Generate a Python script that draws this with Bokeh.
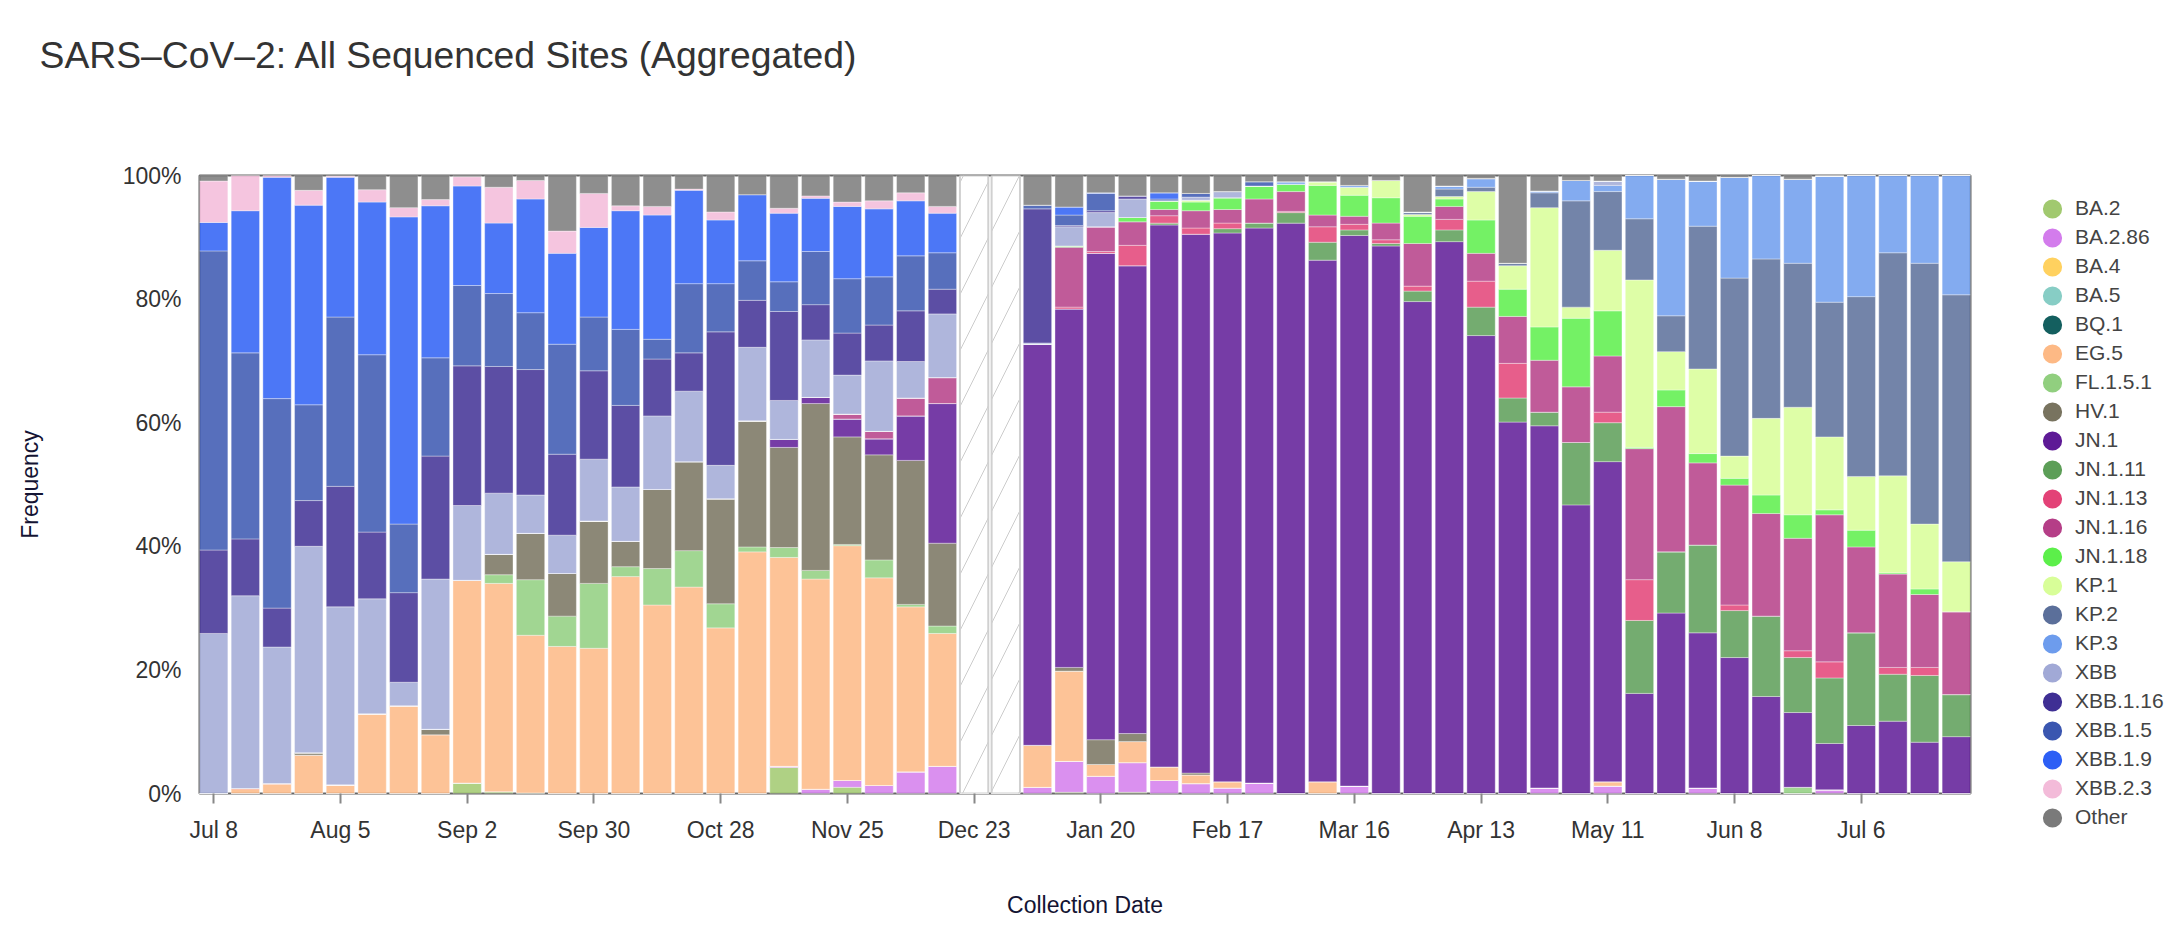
from bokeh.plotting import figure
from bokeh.models import (ColumnDataSource, FixedTicker, NumeralTickFormatter, Range1d,
                          Title, Legend, LegendItem)
from bokeh.embed import file_html
from bokeh.resources import INLINE

# ---------------- data (percent of sequences per collection week) ----------------
week_index = list(range(56))  # weekly bins, Jul 8 2023 ... Jul 27 2024
tick_weeks = [0, 4, 8, 12, 16, 20, 24, 28, 32, 36, 40, 44, 48, 52]
tick_labels = ["Jul 8", "Aug 5", "Sep 2", "Sep 30", "Oct 28", "Nov 25", "Dec 23",
               "Jan 20", "Feb 17", "Mar 16", "Apr 13", "May 11", "Jun 8", "Jul 6"]

lineages = ["BA.2", "BA.2.86", "BA.4", "BA.5", "BQ.1", "EG.5", "FL.1.5.1", "HV.1",
            "JN.1", "JN.1.11", "JN.1.13", "JN.1.16", "JN.1.18", "KP.1", "KP.2", "KP.3",
            "XBB", "XBB.1.16", "XBB.1.5", "XBB.1.9", "XBB.2.3", "Other"]
colors = ["#a1c96f", "#d37cec", "#ffd15f", "#87cdc5", "#145f5f", "#fdb985", "#91cf7f", "#78735f",
          "#5e1a96", "#5c9e57", "#e34277", "#b53e87", "#5cef4a", "#d8fe98", "#5b6f9a", "#6d9ced",
          "#a1a9d6", "#3f2f94", "#3a56b0", "#2d5ff5", "#f3bbd9", "#7a7a7a"]

BA_2 = [0, 0, 0, 0, 0, 0, 0, 0, 1.7, 0.3, 0.1, 0, 0, 0, 0, 0,
        0, 0, 4.2, 0, 1.0, 0, 0, 0, 0, 0, 0, 0.2, 0, 0.2, 0, 0,
        0, 0, 0, 0, 0, 0, 0, 0, 0, 0, 0, 0, 0, 0, 0, 0,
        0, 0, 0, 0, 0, 0, 0, 0]
BA_2_86 = [0, 0, 0, 0, 0, 0, 0, 0, 0, 0, 0, 0, 0, 0, 0, 0,
           0, 0, 0.2, 0.7, 1.1, 1.3, 3.5, 4.4, 0, 0, 1.0, 5.0, 2.8, 4.8, 2.1, 1.6,
           0.9, 1.7, 0, 0, 1.2, 0, 0, 0, 0, 0, 0.9, 0, 1.2, 0, 0, 0.9,
           0, 0, 0, 0.6, 0, 0, 0, 0]
BA_4 = [0, 0, 0, 0, 0, 0, 0, 0, 0, 0, 0, 0, 0, 0, 0, 0,
        0, 0, 0, 0, 0, 0, 0, 0, 0, 0, 0, 0, 0, 0, 0, 0,
        0, 0, 0, 0, 0, 0, 0, 0, 0, 0, 0, 0, 0, 0, 0, 0,
        0, 0, 0, 0, 0, 0, 0, 0]
BA_5 = [0, 0, 0, 0, 0, 0, 0, 0, 0, 0, 0, 0, 0, 0, 0, 0,
        0, 0, 0, 0, 0, 0, 0, 0, 0, 0, 0, 0, 0, 0, 0, 0,
        0, 0, 0, 0, 0, 0, 0, 0, 0, 0, 0, 0, 0, 0, 0, 0,
        0, 0, 0, 0, 0, 0, 0, 0]
BQ_1 = [0, 0, 0, 0, 0, 0, 0, 0, 0, 0, 0, 0, 0, 0, 0, 0,
        0, 0, 0, 0, 0, 0, 0, 0, 0, 0, 0, 0, 0, 0, 0, 0,
        0, 0, 0, 0, 0, 0, 0, 0, 0, 0, 0, 0, 0, 0, 0, 0,
        0, 0, 0, 0, 0, 0, 0, 0]
EG_5 = [0, 0.8, 1.6, 6.2, 1.4, 12.9, 14.2, 9.5, 32.8, 33.7, 25.5, 23.8, 23.5, 35.1, 30.5, 33.4,
        26.8, 39.1, 33.8, 34.0, 38.0, 33.6, 26.7, 21.5, 0, 0, 6.8, 14.6, 1.9, 3.4, 2.2, 1.4,
        1.0, 0, 0, 1.9, 0, 0, 0, 0, 0, 0, 0, 0, 0.7, 0, 0, 0,
        0, 0, 0, 0, 0, 0, 0, 0]
FL_1_5_1 = [0, 0, 0, 0, 0, 0, 0, 0, 0, 1.4, 9.0, 4.9, 10.5, 1.6, 5.9, 5.9,
            3.9, 0.8, 1.6, 1.4, 0.2, 2.9, 0.4, 1.2, 0, 0, 0, 0, 0, 0, 0, 0,
            0, 0, 0, 0, 0, 0, 0, 0, 0, 0, 0, 0, 0, 0, 0, 0,
            0, 0, 1.0, 0, 0, 0, 0, 0]
HV_1 = [0, 0, 0, 0.4, 0, 0, 0, 0.9, 0, 3.3, 7.5, 6.9, 10.1, 4.1, 12.8, 14.4,
        17.0, 20.4, 16.2, 27.0, 17.4, 17.0, 23.3, 13.4, 0, 0, 0, 0.6, 4.0, 1.3, 0, 0.3,
        0, 0, 0, 0, 0, 0, 0, 0, 0, 0, 0, 0, 0, 0, 0, 0,
        0, 0, 0, 0, 0, 0, 0, 0]
JN_1 = [0, 0, 0, 0, 0, 0, 0, 0, 0, 0, 0, 0, 0, 0, 0, 0,
        0, 0, 1.3, 1.0, 2.9, 2.6, 7.2, 22.6, 0, 0, 64.9, 58.0, 78.7, 75.7, 87.6, 87.2,
        88.8, 89.8, 92.2, 84.4, 89.1, 88.6, 79.6, 89.3, 74.1, 60.1, 58.6, 46.7, 51.8, 16.2, 29.2, 25.1,
        22.0, 15.7, 12.1, 7.5, 11.0, 11.7, 8.3, 9.2]
JN_1_11 = [0, 0, 0, 0, 0, 0, 0, 0, 0, 0, 0, 0, 0, 0, 0, 0,
           0, 0, 0, 0, 0, 0, 0, 0, 0, 0, 0, 0, 0, 0, 0.3, 0,
           0.7, 0.8, 1.7, 2.9, 0.9, 0.4, 1.7, 1.9, 4.6, 3.9, 2.2, 10.1, 6.3, 11.8, 9.9, 14.2,
           7.6, 13.0, 8.9, 10.6, 15.0, 7.6, 10.8, 6.8]
JN_1_13 = [0, 0, 0, 0, 0, 0, 0, 0, 0, 0, 0, 0, 0, 0, 0, 0,
           0, 0, 0, 0, 0, 0, 0, 0, 0, 0, 0, 0.3, 0.3, 3.3, 1.2, 1.0,
           0.9, 0, 0.2, 2.5, 0.9, 0.6, 0.8, 1.7, 4.2, 5.6, 0, 0, 1.7, 6.6, 0, 0,
           0.9, 0, 1.1, 2.6, 0, 1.1, 1.3, 0]
JN_1_16 = [0, 0, 0, 0, 0, 0, 0, 0, 0, 0, 0, 0, 0, 0, 0, 0,
           0, 0, 0, 0, 0.8, 1.2, 2.9, 4.2, 0, 0, 0, 9.7, 4.0, 3.8, 1.0, 2.8,
           2.2, 3.9, 3.2, 1.9, 1.3, 2.7, 6.9, 2.1, 4.5, 7.6, 8.4, 9.0, 9.1, 21.2, 23.5, 13.3,
           19.4, 16.6, 18.2, 23.8, 13.9, 15.1, 11.8, 13.4]
JN_1_18 = [0, 0, 0, 0, 0, 0, 0, 0, 0, 0, 0, 0, 0, 0, 0, 0,
           0, 0, 0, 0, 0, 0, 0, 0, 0, 0, 0, 0.2, 0, 0.7, 1.4, 1.4,
           1.9, 2.1, 1.2, 4.8, 3.4, 4.1, 4.4, 1.2, 5.4, 4.4, 5.4, 11.1, 7.3, 0.2, 2.7, 1.5,
           1.1, 3.0, 3.8, 0.8, 2.7, 0.2, 0.9, 0]
KP_1 = [0, 0, 0, 0, 0, 0, 0, 0, 0, 0, 0, 0, 0, 0, 0, 0,
        0, 0, 0, 0, 0, 0, 0, 0, 0, 0, 0, 0, 0, 0, 0, 0.3,
        0, 0, 0, 0.6, 1.3, 2.8, 0.3, 0.4, 4.6, 3.8, 19.3, 1.8, 9.8, 27.1, 6.2, 13.7,
        3.6, 12.4, 17.4, 11.8, 8.7, 15.7, 10.5, 8.1]
KP_2 = [0, 0, 0, 0, 0, 0, 0, 0, 0, 0, 0, 0, 0, 0, 0, 0,
        0, 0, 0, 0, 0, 0, 0, 0, 0, 0, 0, 0, 0, 0, 0, 0,
        0, 0, 0, 0, 0, 0, 0.3, 1.2, 0.7, 0.4, 2.4, 17.2, 9.5, 9.9, 5.8, 23.1,
        28.8, 25.8, 23.3, 21.8, 29.1, 36.1, 42.2, 43.2]
KP_3 = [0, 0, 0, 0, 0, 0, 0, 0, 0, 0, 0, 0, 0, 0, 0, 0,
        0, 0, 0, 0, 0, 0, 0, 0, 0, 0, 0, 0, 0, 0, 0, 0,
        0, 0, 0.4, 0, 0.3, 0, 0.1, 0.5, 1.4, 0, 0.3, 3.3, 1.0, 7.0, 22.1, 7.3,
        16.3, 13.5, 13.6, 20.4, 19.6, 12.5, 14.2, 19.3]
XBB = [25.9, 31.2, 22.1, 33.4, 28.8, 18.6, 3.8, 24.3, 12.1, 9.9, 6.2, 6.2, 10.0, 8.8, 11.9, 11.4,
       5.4, 11.9, 6.3, 9.3, 6.3, 11.4, 5.9, 10.3, 0, 0, 0.2, 3.1, 2.3, 3.0, 0, 0.5,
       1.0, 0, 0, 0, 0, 0, 0, 0, 0, 0, 0, 0, 0.7, 0, 0, 0,
       0, 0, 0, 0, 0, 0, 0, 0]
XBB_1_16 = [13.5, 9.2, 6.3, 7.4, 19.5, 10.8, 14.5, 19.9, 22.6, 20.5, 20.3, 13.1, 14.3, 13.2, 9.2, 6.2,
            21.6, 7.6, 14.4, 5.7, 6.8, 5.8, 8.2, 4.0, 0, 0, 21.7, 0.2, 0.3, 0.5, 0, 0,
            0, 0, 0, 0, 0, 0, 0, 0, 0, 0, 0, 0, 0, 0, 0, 0,
            0, 0, 0, 0, 0, 0, 0, 0]
XBB_1_5 = [48.4, 30.1, 33.9, 15.5, 27.4, 28.7, 11.1, 15.9, 13.0, 11.8, 9.2, 17.8, 8.7, 12.3, 3.2, 11.2,
           7.8, 6.4, 4.8, 8.6, 8.8, 7.8, 8.9, 5.9, 0, 0, 0.6, 1.7, 2.8, 0, 0.3, 0.6,
           0, 0.7, 0, 0, 0, 0, 0, 0, 0, 0, 0, 0, 0, 0, 0, 0,
           0, 0, 0, 0, 0, 0, 0, 0]
XBB_1_9 = [4.6, 23.0, 35.8, 32.3, 22.6, 24.7, 49.7, 24.6, 16.1, 11.4, 18.4, 14.7, 14.5, 19.2, 20.1, 15.1,
           10.3, 10.7, 11.1, 8.6, 11.7, 11.0, 8.9, 6.4, 0, 0, 0, 1.3, 0.1, 0, 1.0, 0,
           0, 0, 0, 0, 0, 0, 0, 0, 0, 0, 0, 0, 0, 0, 0, 0,
           0, 0, 0, 0, 0, 0, 0, 0]
XBB_2_3 = [6.7, 5.7, 0.3, 2.4, 0.2, 2.0, 1.5, 1.0, 1.5, 5.8, 3.0, 3.6, 5.5, 0.8, 1.4, 0.2,
           1.3, 0, 0.8, 0.4, 0.7, 1.3, 1.3, 1.1, 0, 0, 0, 0, 0, 0, 0, 0,
           0, 0, 0, 0, 0, 0, 0, 0, 0, 0, 0, 0, 0, 0, 0, 0,
           0, 0, 0, 0, 0, 0, 0, 0]
Other = [0.9, 0, 0, 2.4, 0.1, 2.3, 5.2, 3.9, 0.2, 1.9, 0.8, 9.0, 2.9, 4.9, 5.0, 2.2,
         5.9, 3.1, 5.3, 3.3, 4.3, 4.1, 2.8, 5.0, 0, 0, 4.8, 5.1, 2.8, 3.3, 2.8, 2.9,
         2.6, 1.0, 1.0, 1.0, 1.6, 0.8, 5.9, 1.7, 0.5, 14.2, 2.5, 0.8, 0.9, 0, 0.6, 0.9,
         0.3, 0, 0.6, 0.1, 0, 0, 0, 0]

series = [BA_2, BA_2_86, BA_4, BA_5, BQ_1, EG_5, FL_1_5_1, HV_1, JN_1, JN_1_11, JN_1_13,
          JN_1_16, JN_1_18, KP_1, KP_2, KP_3, XBB, XBB_1_16, XBB_1_5, XBB_1_9, XBB_2_3, Other]

# ---------------- build sources ----------------
totals = [sum(s[i] for s in series) for i in week_index]
keys = ["s%d" % k for k in range(len(lineages))]
data = {"x": week_index}
for k, s in zip(keys, series):
    data[k] = [s[i] / totals[i] if totals[i] > 0 else 0 for i in week_index]
source = ColumnDataSource(data)
missing_x = [i for i in week_index if totals[i] == 0]

FONT = "Liberation Sans"
BAR_W = 0.895
W, H = 2182, 930
FRAME_L, FRAME_R, FRAME_T, FRAME_B = 199, 1970, 175, 793

p = figure(frame_width=FRAME_R - FRAME_L, frame_height=FRAME_B - FRAME_T,
           output_backend="svg", toolbar_location=None,
           title="SARS\u2013CoV\u20132: All Sequenced Sites (Aggregated)",
           x_range=Range1d(week_index[0] - BAR_W / 2, week_index[-1] + BAR_W / 2),
           y_range=Range1d(0, 1),
           min_border_left=FRAME_L, min_border_right=W - FRAME_R,
           min_border_top=FRAME_T, min_border_bottom=H - FRAME_B)

p.vbar_stack(keys, x="x", width=BAR_W, color=colors, fill_alpha=0.85,
             line_color="white", line_alpha=0.6, line_width=0.6, source=source)

p.vbar(x=missing_x, bottom=0, top=1, width=BAR_W, fill_color="white",
       line_color="#d0d0d0", line_width=2, hatch_pattern="/", hatch_color="#cccccc",
       hatch_scale=56, hatch_weight=1)

p.grid.visible = False
p.background_fill_color = "white"
p.border_fill_color = "white"
p.outline_line_color = "#666666"
p.outline_line_width = 2

# title: spacer title next to the frame pushes the real title up
spacer = Title(text=" ", text_font_size="1px", standoff=97)
p.add_layout(spacer, "above")
p.title.text_font = FONT
p.title.text_font_size = "37.3px"
p.title.text_font_style = "normal"
p.title.text_color = "#333333"
p.title.align = "left"
p.title.offset = 39 - FRAME_L
p.title.standoff = 0

xa = p.xaxis[0]
xa.ticker = FixedTicker(ticks=tick_weeks)
xa.major_label_overrides = {w: l for w, l in zip(tick_weeks, tick_labels)}
xa.axis_line_color = None
xa.major_tick_line_color = "#888888"
xa.major_tick_line_width = 2
xa.major_tick_out = 10
xa.major_tick_in = 0
xa.minor_tick_line_color = None
xa.major_label_text_font = FONT
xa.major_label_text_font_size = "23px"
xa.major_label_text_color = "#333333"
xa.major_label_standoff = 13
xa.axis_label = "Collection Date"
xa.axis_label_text_font = FONT
xa.axis_label_text_font_size = "23px"
xa.axis_label_text_font_style = "normal"
xa.axis_label_text_color = "#141433"
xa.axis_label_standoff = 46

ya = p.yaxis[0]
ya.ticker = FixedTicker(ticks=[0, 0.2, 0.4, 0.6, 0.8, 1.0])
ya.formatter = NumeralTickFormatter(format="0%")
ya.axis_line_color = None
ya.major_tick_line_color = None
ya.minor_tick_line_color = None
ya.major_label_text_font = FONT
ya.major_label_text_font_size = "23px"
ya.major_label_text_color = "#333333"
ya.major_label_standoff = 12
ya.axis_label = "Frequency"
ya.axis_label_text_font = FONT
ya.axis_label_text_font_size = "23px"
ya.axis_label_text_font_style = "normal"
ya.axis_label_text_color = "#141433"
ya.axis_label_standoff = 77

# ---------------- legend (circle swatches, one proxy glyph per lineage, kept off-range) ----------------
items = []
for name, c in zip(lineages, colors):
    r = p.ellipse(x=[-10], y=[-10], width=10, height=10, width_units="screen",
                  height_units="screen", fill_color=c, line_color=None)
    items.append(LegendItem(label=name, renderers=[r]))
legend = Legend(items=items, orientation="vertical", ncols=1, location=(70, -36.5),
                glyph_width=24, glyph_height=25, label_height=25, spacing=4,
                padding=0, margin=0, label_standoff=11,
                label_text_font=FONT, label_text_font_size="21px",
                label_text_color="#444444", border_line_color=None,
                background_fill_alpha=0)
p.add_layout(legend, "right")

open("out.html", "w").write(file_html(p, INLINE))
